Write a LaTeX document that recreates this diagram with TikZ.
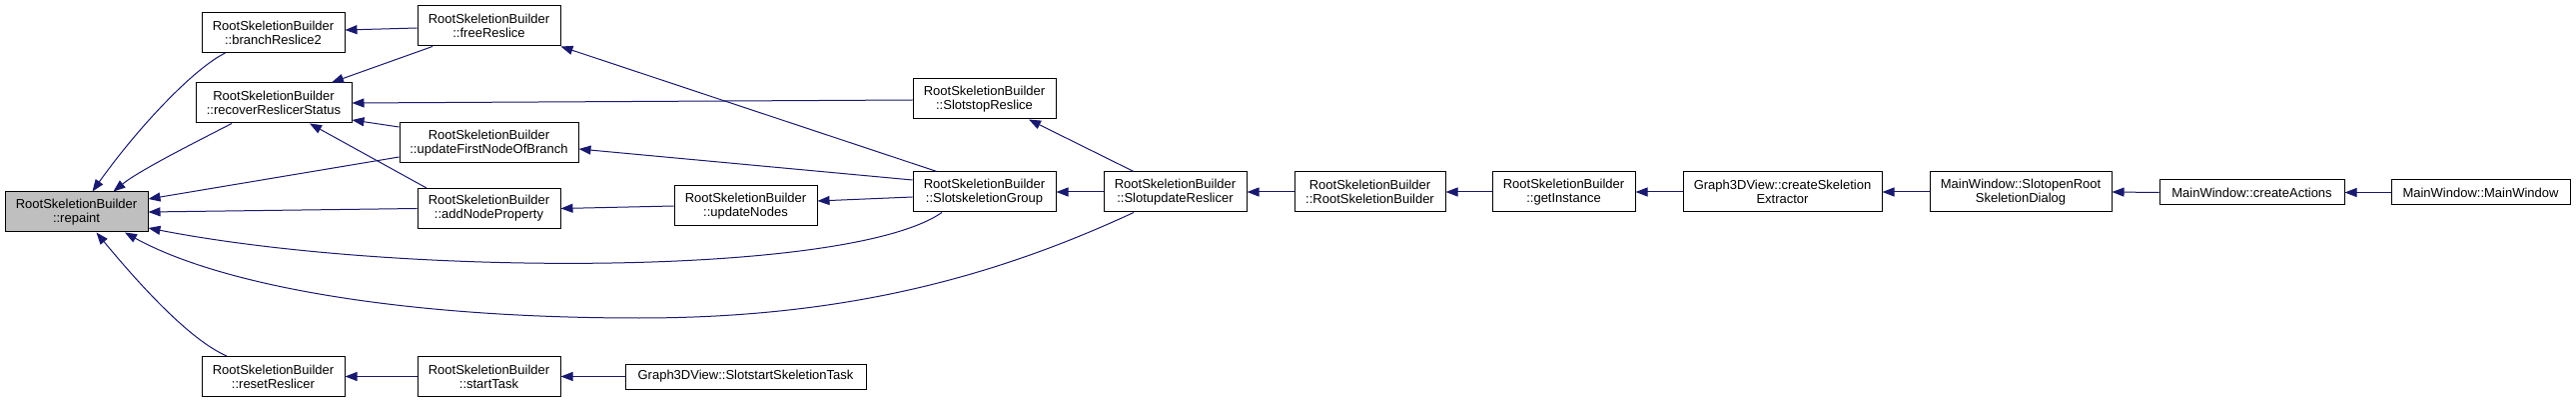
\documentclass[tikz,border=0pt]{standalone}
\usepackage{fontspec}
\setmainfont{Liberation Sans}
\usetikzlibrary{positioning, arrows.meta}

\definecolor{edgeblue}{RGB}{25,25,112}
\definecolor{boxgray}{RGB}{191,191,191}

\tikzset{
    fn/.style={
        draw=black,
        rectangle,
        line width=1pt,
        fill=white,
        align=center,   % <-- two centred lines per box
        inner sep=0pt,
        minimum width=143pt,
        minimum height=40pt,
        font=\fontsize{13}{14}\selectfont
    },
    fnone/.style={fn, minimum height=25pt},
    calls/.style={
        draw=edgeblue,
        line width=1pt,
        -{Triangle[length=12pt, width=9pt]}
    }
}

\begin{document}
\begin{tikzpicture}[x=1pt, y=-1pt]
    \path[use as bounding box, fill=white] (0,0) rectangle (2579,403);

    % callers, from left to right
    \node[fn, fill=boxgray] (repaint) at (76.5,212) {RootSkeletionBuilder\\::repaint};
    \node[fn] (branchReslice) at (273.5,32.5) {RootSkeletionBuilder\\::branchReslice2};
    \node[fn, minimum width=156pt] (recoverStatus) at (274,103) {RootSkeletionBuilder\\::recoverReslicerStatus};
    \node[fn] (resetReslicer) at (273.5,376.5) {RootSkeletionBuilder\\::resetReslicer};
    \node[fn] (freeReslice) at (489.5,26) {RootSkeletionBuilder\\::freeReslice};
    \node[fn, minimum width=179pt] (firstNode) at (489.5,143) {RootSkeletionBuilder\\::updateFirstNodeOfBranch};
    \node[fn] (nodeProperty) at (489.5,208.5) {RootSkeletionBuilder\\::addNodeProperty};
    \node[fn] (startTask) at (489.5,376.5) {RootSkeletionBuilder\\::startTask};
    \node[fn] (updateNodes) at (746.5,206) {RootSkeletionBuilder\\::updateNodes};
    \node[fnone, minimum width=241pt] (startSkeletion) at (746.5,376.5) {Graph3DView::SlotstartSkeletionTask};
    \node[fn] (stopReslice) at (985.5,99) {RootSkeletionBuilder\\::SlotstopReslice};
    \node[fn] (skeletonGroup) at (985.5,192) {RootSkeletionBuilder\\::SlotskeletionGroup};
    \node[fn] (updateReslicer) at (1176.5,192) {RootSkeletionBuilder\\::SlotupdateReslicer};
    \node[fn, minimum width=151pt] (builder) at (1371.5,192) {RootSkeletionBuilder\\::RootSkeletionBuilder};
    \node[fn] (getInstance) at (1565.5,192) {RootSkeletionBuilder\\::getInstance};
    \node[fn, minimum width=199pt] (createExtractor) at (1784.5,192) {Graph3DView::createSkeletion\\Extractor};
    \node[fn, minimum width=182pt] (openDialog) at (2023,192) {MainWindow::SlotopenRoot\\SkeletionDialog};
    \node[fnone, minimum width=185pt] (createActions) at (2254.5,192.5) {MainWindow::createActions};
    \node[fnone, minimum width=179pt] (mainWindow) at (2483.5,192.5) {MainWindow::MainWindow};

    % calls into repaint
    \draw[calls] ([xshift=-48pt]branchReslice.south) .. controls (195,68) and (140,125) .. ([xshift=16pt]repaint.north);
    \draw[calls] ([xshift=-42pt]recoverStatus.south) .. controls (200,140) and (140,170) .. ([xshift=37pt]repaint.north);
    \draw[calls] ([yshift=-14pt]firstNode.west) -- ([yshift=13pt]repaint.east);
    \draw[calls] (nodeProperty.west) -- (repaint.east);
    \draw[calls] ([xshift=-42.5pt]skeletonGroup.south) .. controls (850,277) and (400,277) .. ([yshift=-16pt]repaint.east);
    \draw[calls] ([xshift=-41.5pt]updateReslicer.south) .. controls (1000,275) and (850,318) .. (640,318)
        .. controls (400,318) and (220,285) .. ([xshift=48.5pt]repaint.south);
    \draw[calls] ([xshift=-46.5pt]resetReslicer.north) .. controls (190,340) and (140,285) .. ([xshift=20pt]repaint.south);

    % second and third column
    \draw[calls] ([yshift=-2pt]freeReslice.west) -- ([yshift=2.5pt]branchReslice.east);
    \draw[calls] ([xshift=-56.5pt]freeReslice.south) -- ([xshift=58pt]recoverStatus.north);
    \draw[calls] ([yshift=-1pt]stopReslice.west) -- (recoverStatus.east);
    \draw[calls] ([yshift=16pt]firstNode.west) -- ([yshift=-17pt]recoverStatus.east);
    \draw[calls] ([xshift=-62.5pt]nodeProperty.north) -- ([xshift=36pt]recoverStatus.south);
    \draw[calls] (startTask.west) -- (resetReslicer.east);
    \draw[calls] (startSkeletion.west) -- (startTask.east);
    \draw[calls] (updateNodes.west) -- (nodeProperty.east);

    % slots
    \draw[calls] ([xshift=-47.5pt]skeletonGroup.north) -- (freeReslice.south east);
    \draw[calls] ([yshift=12pt]skeletonGroup.west) -- ([yshift=-6pt]firstNode.east);
    \draw[calls] ([yshift=-5pt]skeletonGroup.west) -- ([yshift=5pt]updateNodes.east);
    \draw[calls] ([xshift=-41.5pt]updateReslicer.north) -- ([xshift=44.5pt]stopReslice.south);
    \draw[calls] (updateReslicer.west) -- (skeletonGroup.east);

    % main chain
    \draw[calls] (builder.west) -- (updateReslicer.east);
    \draw[calls] (getInstance.west) -- (builder.east);
    \draw[calls] (createExtractor.west) -- (getInstance.east);
    \draw[calls] (openDialog.west) -- (createExtractor.east);
    \draw[calls] (createActions.west) -- (openDialog.east);
    \draw[calls] (mainWindow.west) -- (createActions.east);
\end{tikzpicture}
\end{document}
